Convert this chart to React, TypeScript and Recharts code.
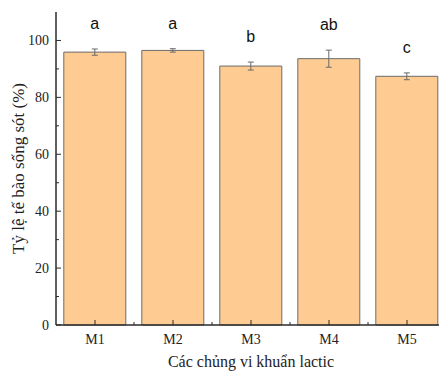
import React from 'react'
import { BarChart, Bar, XAxis, YAxis, ErrorBar, LabelList } from 'recharts'

const strains = ['M1', 'M2', 'M3', 'M4', 'M5']
const survival = [95.9, 96.5, 91.0, 93.6, 87.4]
const survivalErr = [1.1, 0.6, 1.4, 3.0, 1.2]
const letters = ['a', 'a', 'b', 'ab', 'c']
const yTicks = [0, 10, 20, 30, 40, 50, 60, 70, 80, 90, 100]

const data = strains.map((name, i) => ({
  name,
  value: survival[i],
  err: survivalErr[i],
  letter: letters[i],
}))

const SERIF = "'Times New Roman', 'Liberation Serif', serif"
const SANS = "Arial, 'Liberation Sans', sans-serif"
const AXIS = '#2b2b2b'

const W = 450
const H = 372
const M = { top: 12, right: 4, left: 0, bottom: 0 }
const Y_W = 56
const X_H = 47
const band = (W - M.left - M.right - Y_W) / strains.length

function YTick(props: any) {
  const { x, y, payload } = props
  const major = payload.value % 20 === 0
  const ax = x + 7
  return (
    <g>
      <line x1={ax} x2={ax + (major ? 5 : 3)} y1={y} y2={y} stroke={AXIS} strokeWidth={1} />
      {major && (
        <text x={x} y={y} dy="0.35em" textAnchor="end" fontFamily={SERIF} fontSize={14} fill="#222">
          {payload.value}
        </text>
      )}
    </g>
  )
}

function XTick(props: any) {
  const { x, y, payload, index } = props
  const ay = y - 9
  return (
    <g>
      <line x1={x} x2={x} y1={ay} y2={ay - 5} stroke={AXIS} strokeWidth={1} />
      {index < strains.length - 1 && (
        <line x1={x + band / 2} x2={x + band / 2} y1={ay} y2={ay - 3} stroke={AXIS} strokeWidth={1} />
      )}
      <text x={x} y={y} dy="0.71em" textAnchor="middle" fontFamily={SERIF} fontSize={14} fill="#222">
        {payload.value}
      </text>
    </g>
  )
}

function Letter(props: any) {
  const { x, y, width, height, index, value } = props
  const row = data[index]
  const perUnit = height / row.value
  const top = y - row.err * perUnit
  return (
    <text x={x + width / 2} y={top - 20} textAnchor="middle" fontFamily={SANS} fontSize={16} fill="#111">
      {value}
    </text>
  )
}

export default function App() {
  return (
    <div style={{ position: 'absolute', left: 0, top: 0, width: 439, height: 372, overflow: 'hidden', background: '#fff' }}>
      <BarChart width={W} height={H} data={data} margin={M} barCategoryGap="10%">
        <Bar dataKey="value" fill="#FECC92" stroke="#6b6b6b" strokeWidth={1} isAnimationActive={false}>
          <ErrorBar dataKey="err" width={3} stroke="#6a6a6a" strokeWidth={1} />
          <LabelList dataKey="letter" content={Letter} />
        </Bar>
        <XAxis
          dataKey="name"
          height={X_H}
          stroke={AXIS}
          strokeWidth={1.5}
          tickLine={false}
          tickSize={0}
          tickMargin={9}
          tick={XTick}
          interval={0}
          label={{
            value: 'Các chủng vi khuẩn lactic',
            position: 'insideBottom',
            offset: 5,
            fontFamily: SERIF,
            fontSize: 16,
            fill: '#222',
          }}
        />
        <XAxis xAxisId="top" dataKey="name" orientation="top" height={0} stroke={AXIS} strokeWidth={1.5} tick={false} tickLine={false} />
        <YAxis
          width={Y_W}
          domain={[0, 110]}
          ticks={yTicks}
          interval={0}
          stroke={AXIS}
          strokeWidth={1.5}
          tickLine={false}
          tickSize={0}
          tickMargin={7}
          tick={YTick}
          label={{
            value: 'Tỷ lệ tế bào sống sót (%)',
            angle: -90,
            position: 'insideLeft',
            offset: 18,
            fontFamily: SERIF,
            fontSize: 17,
            fill: '#222',
            style: { textAnchor: 'middle' },
          }}
        />
        <YAxis yAxisId="right" orientation="right" width={0} domain={[0, 110]} stroke={AXIS} strokeWidth={1.5} tick={false} tickLine={false} />
      </BarChart>
    </div>
  )
}
